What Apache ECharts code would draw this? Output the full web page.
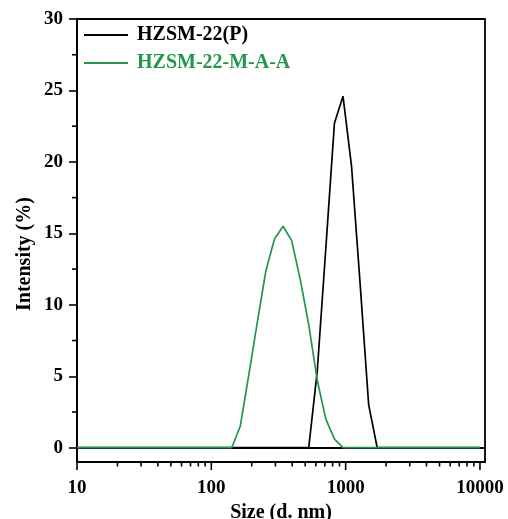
<!DOCTYPE html>
<html><head><meta charset="utf-8">
<script src="https://cdn.jsdelivr.net/npm/echarts@6/dist/echarts.min.js"></script>
<style>html,body{margin:0;padding:0;background:#fff}#c{width:508px;height:519px}</style>
</head><body><div id="c"></div>
<script>
// Size bins (d. nm)
const sizes = [10, 141.8, 164.2, 190.1, 220.2, 255.0, 295.3, 342.0, 396.1, 458.7, 531.2, 615.1, 712.4, 825.0, 955.4, 1106, 1281, 1484, 1718, 10000];
// Intensity (%)
const hzsmP   = [0, 0, 0, 0, 0, 0, 0, 0, 0, 0, 0, 5.4, 14.0, 22.7, 24.6, 19.7, 11.5, 3.0, 0, 0];
const hzsmMAA = [0, 0, 1.5, 5.1, 8.8, 12.4, 14.6, 15.5, 14.5, 11.8, 8.6, 4.7, 2.0, 0.6, 0, 0, 0, 0, 0, 0];
const seriesNames = ['HZSM-22(P)', 'HZSM-22-M-A-A'];
const xMajorTicks = [10, 100, 1000, 10000];
const xMinorTicks = [20, 30, 40, 50, 60, 70, 80, 90, 200, 300, 400, 500, 600, 700, 800, 900, 2000, 3000, 4000, 5000, 6000, 7000, 8000, 9000];
const yMajorTicks = [0, 5, 10, 15, 20, 25, 30];
const yMinorTicks = [2.5, 7.5, 12.5, 17.5, 22.5, 27.5];

const FONT = '"Liberation Serif", "Times New Roman", serif';
const GREEN = '#23964b';
const X_MIN = 10, X_MAX = 10900, Y_MIN = -1, Y_MAX = 30;

function tickSeries(values, dir, len) {
  return {
    type: 'custom', silent: true, clip: false, z: 5,
    data: values.map(v => [v]),
    encode: dir === 'x' ? {x: 0} : {y: 0},
    renderItem: function (params, api) {
      const v = api.value(0);
      if (dir === 'x') {
        const p = api.coord([v, Y_MIN]);
        return {type: 'line', shape: {x1: p[0], y1: p[1], x2: p[0], y2: p[1] + len}, style: {stroke: '#000', lineWidth: 1.6}};
      } else {
        const p = api.coord([X_MIN, v]);
        return {type: 'line', shape: {x1: p[0] - len, y1: p[1], x2: p[0], y2: p[1]}, style: {stroke: '#000', lineWidth: 1.6}};
      }
    }
  };
}

const chart = echarts.init(document.getElementById('c'), null, {renderer: 'canvas'});
chart.setOption({
  animation: false,
  backgroundColor: '#fff',
  grid: {left: 77, right: 23, top: 19, bottom: 57, show: true, borderColor: '#000', borderWidth: 1.8,
    backgroundColor: 'transparent', outerBoundsMode: 'none', containLabel: false},
  legend: {
    orient: 'vertical', left: 84, top: 25, padding: 0, itemWidth: 44, itemHeight: 2, itemGap: 8,
    icon: 'rect',
    textStyle: {fontFamily: FONT, fontWeight: 'bold', fontSize: 20, padding: [0, 0, 0, 4]},
    data: [
      {name: seriesNames[0], textStyle: {color: '#000'}, itemStyle: {color: '#000'}},
      {name: seriesNames[1], textStyle: {color: GREEN}, itemStyle: {color: GREEN}}
    ]
  },
  xAxis: {
    type: 'log', logBase: 10, min: X_MIN, max: X_MAX,
    name: 'Size (d. nm)', nameLocation: 'middle', nameGap: 39,
    nameTextStyle: {fontFamily: FONT, fontWeight: 'bold', fontSize: 20, color: '#000'},
    axisLine: {lineStyle: {color: '#000', width: 1.8}},
    axisTick: {show: false},
    splitLine: {show: false},
    axisLabel: {showMaxLabel: false, margin: 17, fontFamily: FONT, fontWeight: 'bold', fontSize: 19, color: '#000',
      formatter: v => String(Math.round(v))}
  },
  yAxis: {
    type: 'value', min: Y_MIN, max: Y_MAX,
    axisLine: {show: true, lineStyle: {color: '#000', width: 1.8}},
    axisTick: {show: true, length: 8, customValues: yMajorTicks, lineStyle: {width: 1.6}},
    splitLine: {show: false},
    axisLabel: {customValues: yMajorTicks, margin: 14, fontFamily: FONT, fontWeight: 'bold', fontSize: 19, color: '#000'}
  },
  graphic: [{
    type: 'text', x: 25, y: 254, rotation: Math.PI / 2,
    style: {text: 'Intensity (%)', fontFamily: FONT, fontWeight: 'bold', fontSize: 20, fill: '#000', align: 'center', verticalAlign: 'middle'}
  }],
  series: [
    {name: seriesNames[0], type: 'line', data: sizes.map((s, i) => [s, hzsmP[i]]), showSymbol: false, symbol: 'none',
      lineStyle: {color: '#000', width: 1.7}, itemStyle: {color: '#000'}, z: 2},
    {name: seriesNames[1], type: 'line', data: sizes.map((s, i) => [s, hzsmMAA[i]]), showSymbol: false, symbol: 'none',
      lineStyle: {color: GREEN, width: 1.7}, itemStyle: {color: GREEN}, z: 3},
    tickSeries(xMajorTicks, 'x', 8),
    tickSeries(xMinorTicks, 'x', 4.5),
    tickSeries(yMinorTicks, 'y', 5)
  ]
});
</script></body></html>
